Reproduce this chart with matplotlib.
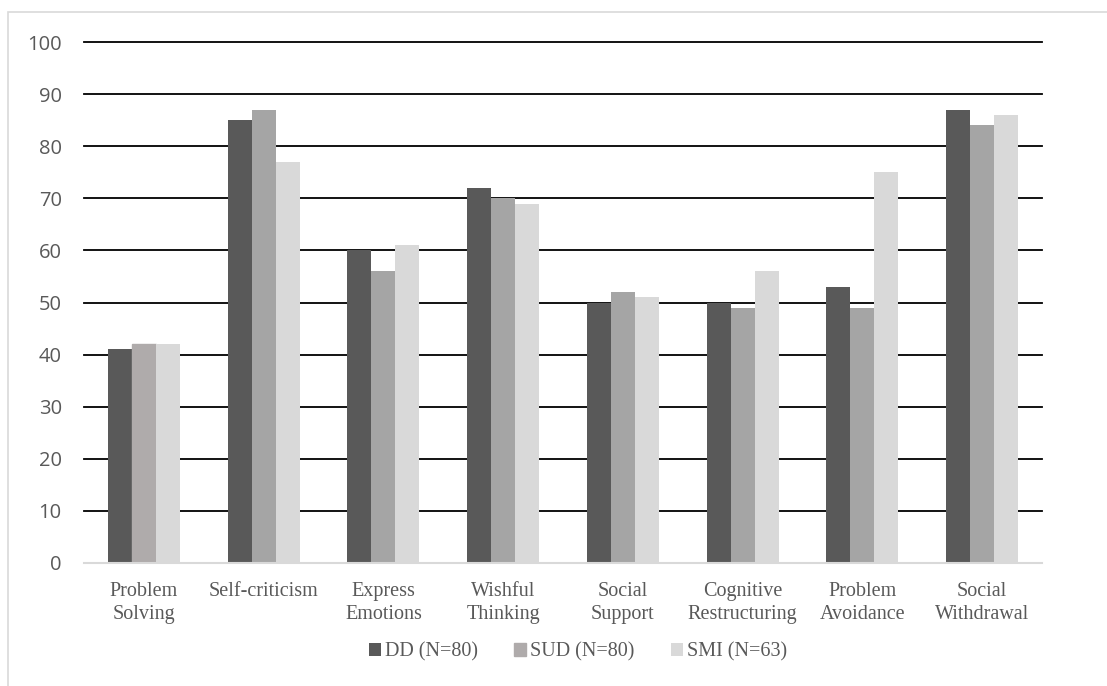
import numpy as np
import matplotlib.pyplot as plt
from matplotlib.patches import Rectangle

categories = ["Problem\nSolving", "Self-criticism", "Express\nEmotions", "Wishful\nThinking",
              "Social\nSupport", "Cognitive\nRestructuring", "Problem\nAvoidance", "Social\nWithdrawal"]
dd = [41, 85, 60, 72, 50, 50, 53, 87]
sud = [42, 87, 56, 70, 52, 49, 49, 84]
smi = [42, 77, 61, 69, 51, 56, 75, 86]
series_names = ["DD (N=80)", "SUD (N=80)", "SMI (N=63)"]
colors = ["#595959", "#A5A5A5", "#D9D9D9"]
text_color = "#595959"

fig = plt.figure(figsize=(11.07, 6.86), dpi=100)
# light outer frame like the source document
fig.patches.append(Rectangle((8 / 1107, -0.05), 1.1, 1 - 12 / 686 + 0.05, transform=fig.transFigure,
                             fill=False, edgecolor="#D9D9D9", linewidth=1.2))

ax = fig.add_axes([84 / 1107, 1 - 563 / 686, (1042 - 84) / 1107, (563 - 42) / 686])

x = np.arange(len(categories))
w = 0.2
bars = []
for i, (vals, name) in enumerate(zip([dd, sud, smi], series_names)):
    b = ax.bar(x + (i - 1) * w, vals, w, color=colors[i], label=name, zorder=2)
    bars.append(b)
bars[1][0].set_color("#AFABAB")

ax.set_xlim(-0.5, len(categories) - 0.5)
ax.set_ylim(0, 100)
ax.set_yticks(range(0, 101, 10))
ax.set_xticks(x)
ax.set_xticklabels(categories, family="Liberation Serif", fontsize=14.5, color=text_color,
                   linespacing=1.25)
ax.tick_params(axis="y", length=0, pad=16, labelsize=14.5, labelcolor=text_color)
ax.tick_params(axis="x", length=0, pad=14)
for lab in ax.get_yticklabels():
    lab.set_family("Open Sans")

ax.set_axisbelow(True)
ax.yaxis.grid(True, color="black", linewidth=1.3)
for gl in ax.get_ygridlines():
    gl.set_clip_on(False)
for s in ["top", "left", "right"]:
    ax.spines[s].set_visible(False)
ax.spines["bottom"].set_color("#D9D9D9")
ax.spines["bottom"].set_linewidth(1.5)
ax.spines["bottom"].set_zorder(3)

leg = fig.legend(loc="center", bbox_to_anchor=(0.522, 1 - 652 / 686), ncol=3, frameon=False,
                 handlelength=0.6, handleheight=0.6, handletextpad=0.2, columnspacing=1.8,
                 prop={"family": "Liberation Serif", "size": 14.5})
for t in leg.get_texts():
    t.set_color(text_color)

fig.savefig("out.png", dpi=100)
